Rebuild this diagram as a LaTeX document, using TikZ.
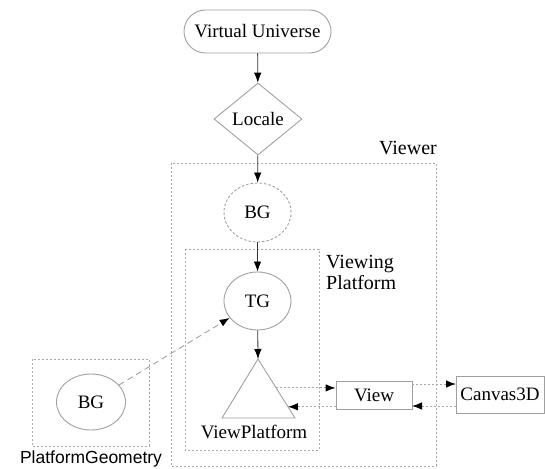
\documentclass[tikz,border=0pt]{standalone}
\usepackage{fontspec}
\setmainfont{Liberation Serif}
\newfontfamily\pgfont{Liberation Sans}
\usetikzlibrary{shapes.geometric,shapes.misc,arrows.meta,calc}
\definecolor{shapegray}{HTML}{A0A0A0}
\definecolor{boxgray}{HTML}{A8A8A8}
\tikzset{
  txt/.style={font=\fontsize{19}{21}\selectfont},
  bigtxt/.style={font=\fontsize{20}{21}\selectfont},
  shapeline/.style={draw=shapegray,line width=0.9pt},
  groupbox/.style={draw=boxgray,line width=0.9pt,dash pattern=on 2pt off 2pt},
  tip/.style={-{Latex[length=10pt,width=7.5pt,color=black]}},
  solidarrow/.style={tip,draw=black!80,line width=0.8pt},
  dotarrow/.style={tip,draw=boxgray,line width=0.9pt,dash pattern=on 2pt off 2pt},
  dasharrow/.style={tip,draw=shapegray,line width=0.9pt,dash pattern=on 6pt off 4pt},
}
\begin{document}
\begin{tikzpicture}[x=1pt,y=-1pt]
\useasboundingbox (0,0) rectangle (545,468);
% group boxes
\draw[groupbox] (171,163) rectangle (436,466);
\draw[groupbox] (185,249) rectangle (319,450);
\draw[groupbox] (32,359) rectangle (149,446);
\node[bigtxt,anchor=east,inner sep=0pt] (viewerlbl) at (437,148) {Viewer};
\node[bigtxt,anchor=west,align=left,inner sep=0pt] (vplbl) at (326,272) {Viewing\\Platform};
\node[font=\pgfont\fontsize{17.5}{21}\selectfont,anchor=base,inner sep=0pt] (pglbl) at (91,463.5) {PlatformGeometry};
% nodes
\node[txt,shapeline,rounded rectangle,minimum width=147pt,minimum height=43pt,inner sep=0pt] (vu) at (257.5,31.5) {Virtual Universe};
\node[txt,shapeline,diamond,minimum width=88pt,minimum height=72pt,inner sep=0pt] (locale) at (258,119) {Locale};
\node[txt,shapeline,ellipse,dash pattern=on 2.5pt off 2pt,minimum width=67pt,minimum height=59pt,inner sep=0pt] (bg) at (257.5,212.5) {BG};
\node[txt,shapeline,ellipse,minimum width=67pt,minimum height=58pt,inner sep=0pt] (tg) at (257.5,301) {TG};
\node[txt,shapeline,ellipse,minimum width=69pt,minimum height=56pt,inner sep=0pt] (bgpg) at (91,402) {BG};
\node[txt,shapeline,rectangle,minimum width=76pt,minimum height=28pt,inner sep=0pt] (view) at (374,395) {View};
\node[txt,shapeline,rectangle,minimum width=88pt,minimum height=37pt,inner sep=0pt] (canvas) at (500,394.5) {Canvas3D};
% triangle
\coordinate (apex) at (258,359);
\coordinate (bl) at (222,418);
\coordinate (br) at (295,418);
\draw[shapeline] (apex) -- (bl) -- (br) -- cycle;
\node[txt] (vplabel) at (254,432) {ViewPlatform};
\coordinate (vpout) at ($(apex)!0.49!(br)$);
\coordinate (vpin) at ($(apex)!0.81!(br)$);
\coordinate (viewouttop) at (412,384);
\coordinate (canvasintop) at (456,384);
\coordinate (canvasoutbot) at (456,406);
\coordinate (viewinbot) at (412,406);
% connectors
\draw[solidarrow] (vu) -- (locale);
\draw[solidarrow] (locale) -- (bg);
\draw[solidarrow] (bg) -- (tg);
\draw[solidarrow] (tg) -- (apex);
\draw[dasharrow] (bgpg) -- (tg);
\draw[dotarrow] (vpout) -- (view.west |- vpout);
\draw[dotarrow] (view.west |- vpin) -- (vpin);
\draw[dotarrow] (viewouttop) -- (canvasintop);
\draw[dotarrow] (canvasoutbot) -- (viewinbot);
\end{tikzpicture}
\end{document}
